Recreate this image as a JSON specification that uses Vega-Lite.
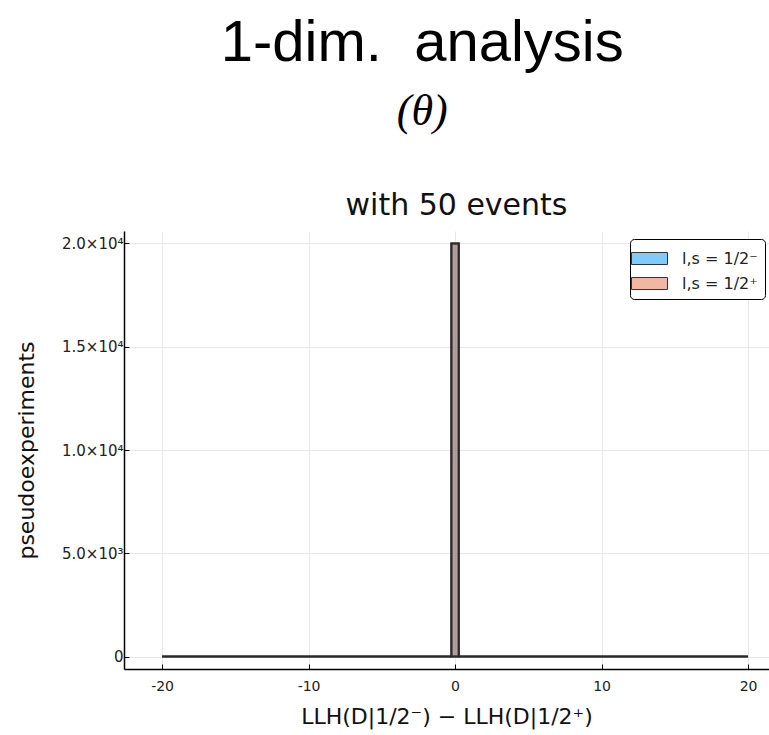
{
  "$schema": "https://vega.github.io/schema/vega-lite/v6.json",
  "background": "white",
  "padding": {"left": 15, "top": 15, "right": 0, "bottom": 10},
  "title": {
    "text": "1-dim.\u00a0 analysis",
    "subtitle": "(θ)",
    "anchor": "middle",
    "dx": 30,
    "font": "Liberation Sans",
    "fontSize": 58,
    "fontWeight": "normal",
    "color": "black",
    "subtitleFont": "Liberation Serif",
    "subtitleFontStyle": "italic",
    "subtitleFontSize": 44,
    "subtitleColor": "black",
    "subtitlePadding": 17,
    "offset": 57
  },
  "vconcat": [
    {
      "width": 645,
      "height": 438,
      "title": {
        "text": "with 50 events",
        "anchor": "middle",
        "dx": 10,
        "font": "DejaVu Sans",
        "fontSize": 30,
        "fontWeight": "normal",
        "color": "#111",
        "offset": 10
      },
      "data": {
        "values": [
          {"series": "l,s = 1/2⁻", "x0": -20, "x1": -0.25, "count": 0},
          {"series": "l,s = 1/2⁻", "x0": -0.25, "x1": 0.25, "count": 20000},
          {"series": "l,s = 1/2⁻", "x0": 0.25, "x1": 20, "count": 0},
          {"series": "l,s = 1/2⁺", "x0": -20, "x1": -0.25, "count": 0},
          {"series": "l,s = 1/2⁺", "x0": -0.25, "x1": 0.25, "count": 20000},
          {"series": "l,s = 1/2⁺", "x0": 0.25, "x1": 20, "count": 0}
        ]
      },
      "mark": {"type": "bar", "fillOpacity": 0.5, "stroke": "#2a2a2a", "strokeWidth": 2},
      "encoding": {
        "x": {
          "field": "x0",
          "type": "quantitative",
          "scale": {"domain": [-22.6, 21.43], "nice": false, "zero": false},
          "axis": {
            "values": [-20, -10, 0, 10, 20],
            "grid": true,
            "tickSize": -5,
            "labelPadding": 15,
            "titlePadding": 13,
            "labelFontSize": 14,
            "titleFontSize": 22,
            "labelExpr": "datum.value < 0 ? '-' + abs(datum.value) : '' + datum.value"
          },
          "title": "LLH(D|1/2⁻) − LLH(D|1/2⁺)"
        },
        "x2": {"field": "x1"},
        "y": {
          "field": "count",
          "type": "quantitative",
          "scale": {"domain": [-600, 20600], "nice": false, "zero": false},
          "axis": {
            "values": [0, 5000, 10000, 15000, 20000],
            "grid": true,
            "tickSize": -5,
            "labelPadding": 6,
            "titlePadding": 23,
            "labelFontSize": 15,
            "titleFontSize": 22,
            "labelExpr": "datum.value == 0 ? '0' : datum.value == 5000 ? '5.0×10³' : datum.value == 10000 ? '1.0×10⁴' : datum.value == 15000 ? '1.5×10⁴' : '2.0×10⁴'"
          },
          "title": "pseudoexperiments"
        },
        "y2": {"datum": 0},
        "color": {
          "field": "series",
          "type": "nominal",
          "scale": {"domain": ["l,s = 1/2⁻", "l,s = 1/2⁺"], "range": ["#009AFA", "#E36F47"]},
          "legend": {
            "title": null,
            "orient": "none",
            "legendX": 506,
            "legendY": 8,
            "strokeColor": "black",
            "fillColor": "white",
            "cornerRadius": 4,
            "padding": 7,
            "symbolType": "M-1.5,-0.5H1.5V0.5H-1.5Z",
            "symbolSize": 576,
            "symbolStrokeColor": "#333",
            "symbolStrokeWidth": 1,
            "labelFont": "DejaVu Sans",
            "labelFontSize": 16,
            "labelColor": "#222",
            "labelOffset": 20,
            "rowPadding": 4,
            "encode": {"symbols": {"update": {"fillOpacity": {"value": 0.5}, "stroke": {"value": "#333"}}}}
          }
        }
      }
    }
  ],
  "config": {
    "view": {"stroke": null},
    "axis": {
      "domainColor": "black",
      "domainWidth": 1.5,
      "tickColor": "black",
      "tickWidth": 1,
      "gridColor": "#e8e8e8",
      "gridWidth": 1,
      "labelColor": "#222",
      "titleColor": "#111",
      "labelFont": "DejaVu Sans",
      "titleFont": "DejaVu Sans",
      "titleFontWeight": "normal"
    }
  }
}
